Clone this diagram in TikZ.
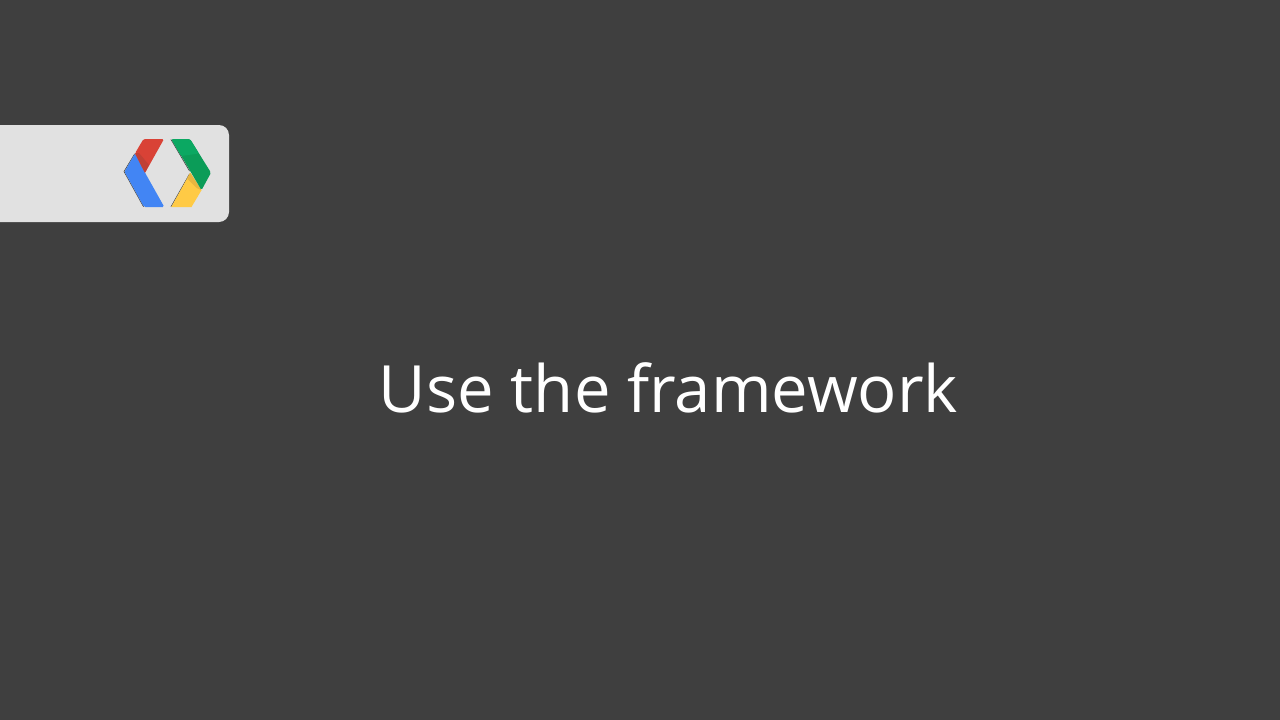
\documentclass[tikz,border=0pt]{standalone}
\usepackage{fontspec}
\setmainfont{Open Sans}
\definecolor{bg}{HTML}{3F3F3F}
\definecolor{bar}{HTML}{E1E1E1}
\definecolor{lred}{HTML}{D94236}
\definecolor{lredd}{HTML}{C04035}
\definecolor{lblue}{HTML}{4285F4}
\definecolor{lgreen}{HTML}{0B9C58}
\definecolor{lgreenl}{HTML}{0BA862}
\definecolor{lyellow}{HTML}{FFCA45}
\definecolor{lyellowd}{HTML}{E8B640}
\tikzset{
  petal/.style={line join=round,rounded corners=1.5pt},
  edge/.style={draw=black!75,line width=.6pt,line cap=round},
  title/.style={text=white,font=\fontsize{65.2}{78}\selectfont,inner sep=0pt,anchor=base}
}
\begin{document}
\begin{tikzpicture}[x=1pt,y=-1pt]
\useasboundingbox (0,0) rectangle (1280,720);
\fill[bg] (0,0) rectangle (1280,720);
\fill[bar,rounded corners=10pt] (-20,125) rectangle (229,222);
% dark outer edges
\draw[edge] (134.6,154) -- (124,171.5) -- (143.5,206.7);
\draw[edge] (171,206.7) -- (189.5,174);
\draw[edge] (171,139.5) -- (189.5,171);
% blue
\fill[lblue,petal] (135.3,153) -- (124.5,171.7) -- (144,207) -- (164.3,207) -- (145.2,173) -- cycle;
% red
\fill[lred,petal] (135,153.3) -- (143.5,139) -- (164,139) -- (145,172.9) -- cycle;
\fill[lredd] (135,153.3) -- (139,153) -- (149,165) -- (145,172.9) -- cycle;
% yellow
\fill[lyellow] (190.3,172.7) -- (201.5,190.2) -- (191.5,207) -- (171.3,207) -- cycle;
\fill[lyellowd] (190.3,172.7) -- (201.5,190.2) -- (196.5,188) -- (187,178.5) -- cycle;
% green
\fill[lgreen,petal] (171.3,139) -- (190,139) -- (211,172.7) -- (201.5,190.2) -- cycle;
\fill[lgreenl,petal] (171.3,139) -- (190,139) -- (199,153.5) -- (181,156) -- cycle;
\node[title] (t) at (668.5,412) {Use the framework};
\end{tikzpicture}
\end{document}
